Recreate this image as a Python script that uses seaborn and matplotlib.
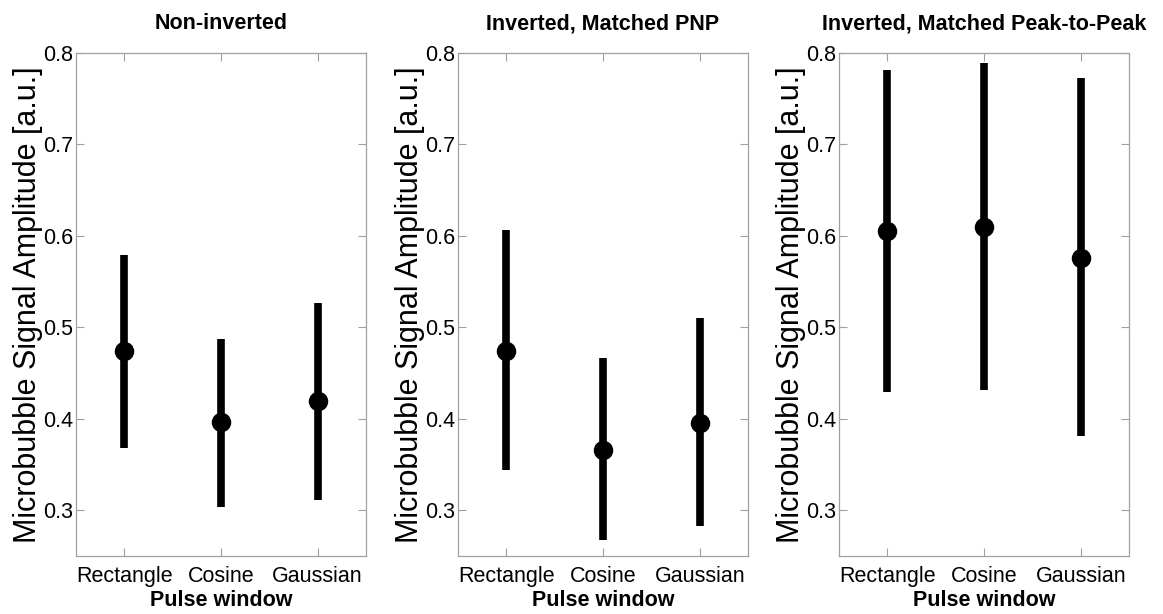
import matplotlib
matplotlib.use("Agg")
import matplotlib.pyplot as plt
import seaborn as sns
import pandas as pd

# ---- data ----
categories = ["Rectangle", "Cosine", "Gaussian"]
titles = ["Non-inverted", "Inverted, Matched PNP", "Inverted, Matched Peak-to-Peak"]

mean_noninv = [0.474, 0.397, 0.420]
low_noninv = [0.368, 0.304, 0.311]
high_noninv = [0.579, 0.487, 0.527]

mean_pnp = [0.474, 0.366, 0.395]
low_pnp = [0.344, 0.267, 0.283]
high_pnp = [0.606, 0.466, 0.510]

mean_p2p = [0.605, 0.610, 0.576]
low_p2p = [0.429, 0.431, 0.381]
high_p2p = [0.781, 0.789, 0.773]

yticks = [0.3, 0.4, 0.5, 0.6, 0.7, 0.8]
ylim = (0.25, 0.8)

panels = [
    (mean_noninv, low_noninv, high_noninv),
    (mean_pnp, low_pnp, high_pnp),
    (mean_p2p, low_p2p, high_p2p),
]

sns.set_style("white")
plt.rcParams["font.family"] = ["Liberation Sans", "DejaVu Sans"]
plt.rcParams["text.color"] = "black"
plt.rcParams["axes.labelcolor"] = "black"
plt.rcParams["xtick.labelcolor"] = "black"
plt.rcParams["ytick.labelcolor"] = "black"

fig = plt.figure(figsize=(11.63, 6.14), dpi=100)
lefts = [0.0653, 0.3938, 0.7214]
width = 0.2494
bottom = 1 - 556 / 614
top = 1 - 53 / 614
height = top - bottom

spine_col = "#a0a0a0"
for i, (m, lo, hi) in enumerate(panels):
    ax = fig.add_axes([lefts[i], bottom, width, height])
    rows = []
    for c, a, b, d in zip(categories, lo, m, hi):
        for v in (a, b, d):
            rows.append({"window": c, "amp": v})
    df = pd.DataFrame(rows)
    sns.pointplot(data=df, x="window", y="amp", order=categories,
                  estimator="median", errorbar=("pi", 100),
                  color="black", linestyle="none", marker="o",
                  markersize=12, err_kws={"linewidth": 5.5, "solid_capstyle": "butt"},
                  ax=ax)
    ax.set_xlim(-0.5, 2.5)
    ax.set_ylim(*ylim)
    ax.set_yticks(yticks)
    ax.set_yticklabels([f"{t:.1f}" for t in yticks], fontsize=15.5, color="black")
    ax.set_xticks(range(len(categories)))
    ax.set_xticklabels(categories, fontsize=15.5, color="black")
    ax.tick_params(axis="both", direction="in", length=6, width=0.8,
                   color=spine_col, top=True, right=True, bottom=True, left=True)
    ax.tick_params(axis="y", pad=2)
    ax.tick_params(axis="x", pad=7)
    for s in ax.spines.values():
        s.set_visible(True)
        s.set_color(spine_col)
        s.set_linewidth(0.9)
    ax.set_xlabel("Pulse window", fontsize=15.5, fontweight="bold", labelpad=2.5, color="black")
    ax.set_ylabel("Microbubble Signal Amplitude [a.u.]", fontsize=22, labelpad=0, color="black")
    ax.set_title(titles[i], fontsize=15.5, fontweight="bold", pad=17, color="black")

fig.savefig("out.png", dpi=100)
